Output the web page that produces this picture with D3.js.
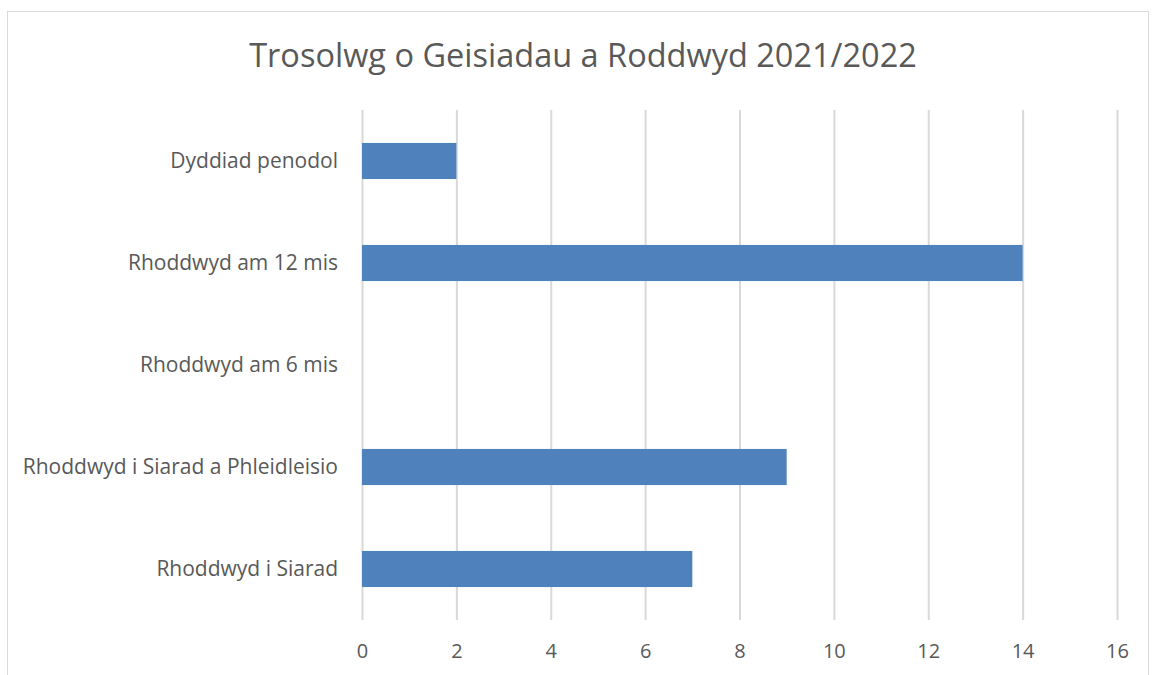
<!DOCTYPE html>
<html><head><meta charset="utf-8">
<script src="https://cdn.jsdelivr.net/npm/d3@7"></script>
<style>body{margin:0;background:#fff;} text{font-family:"Open Sans","Noto Sans",sans-serif;}</style>
</head><body>
<svg id="c" width="1152" height="675"></svg>
<script>
const title = "Trosolwg o Geisiadau a Roddwyd 2021/2022";
const categories = ["Dyddiad penodol","Rhoddwyd am 12 mis","Rhoddwyd am 6 mis","Rhoddwyd i Siarad a Phleidleisio","Rhoddwyd i Siarad"];
const values = [2,14,0,9,7];
const xTicks = [0,2,4,6,8,10,12,14,16];

(function(){
const svg = d3.select("#c");
svg.append("rect").attr("x",7.5).attr("y",11.5).attr("width",1141).attr("height",680)
  .attr("fill","#fff").attr("stroke","#d9d9d9").attr("stroke-width",1);

const pl=362, pr=1117, pt=110, pb=620;
const x = d3.scaleLinear().domain([0,16]).range([pl,pr]);
const y = d3.scaleBand().domain(categories).range([pt,pb]).paddingInner(0.646).paddingOuter(0.323);

svg.append("text").attr("x",583).attr("y",67).attr("text-anchor","middle")
  .attr("font-size",32.5).attr("fill","#595959").text(title);

const gx = svg.append("g").attr("transform",`translate(0,${pb})`)
  .call(d3.axisBottom(x).tickValues(xTicks).tickSize(-(pb-pt)).tickPadding(24).tickFormat(d3.format("d")));
gx.select(".domain").remove();
gx.selectAll(".tick line").attr("stroke","#d9d9d9").attr("stroke-width",2);
gx.selectAll(".tick text").attr("font-size",20).attr("fill","#595959");

svg.append("g").selectAll("rect").data(categories).join("rect")
  .attr("x",x(0)).attr("y",d=>y(d)).attr("height",y.bandwidth())
  .attr("width",(d,i)=>x(values[i])-x(0)).attr("fill","#4f81bd");

svg.append("g").selectAll("text").data(categories).join("text")
  .attr("x",pl-24).attr("y",d=>y(d)+y.bandwidth()/2).attr("dy","0.35em")
  .attr("text-anchor","end").attr("font-size",21).attr("fill","#595959").text(d=>d);
})();
</script>
</body></html>
